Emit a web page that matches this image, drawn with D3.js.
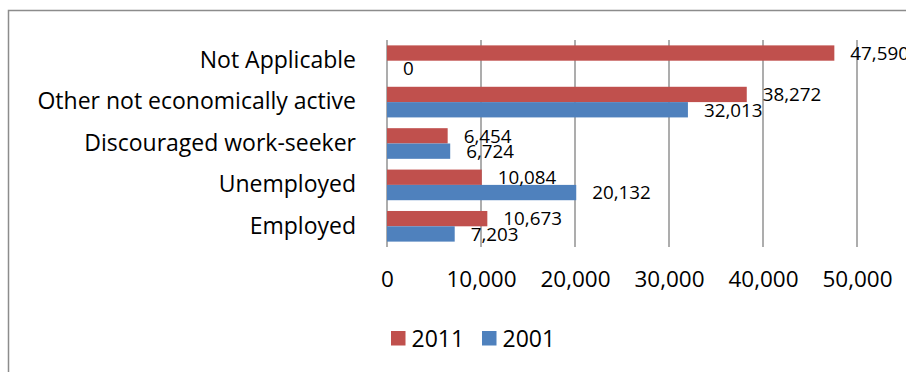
<!DOCTYPE html>
<html>
<head>
<meta charset="utf-8">
<script src="https://cdn.jsdelivr.net/npm/d3@7"></script>
<style>
  html, body { margin: 0; padding: 0; background: #fff; }
  svg { display: block; }
  text { font-family: "Open Sans", Lato, sans-serif; fill: #000; }
</style>
</head>
<body>
<svg id="chart" width="906" height="372"></svg>
<script>
// Economic activity status, population counts by census year
const categories = ["Not Applicable", "Other not economically active", "Discouraged work-seeker", "Unemployed", "Employed"];
const values2011 = [47590, 38272, 6454, 10084, 10673];
const values2001 = [0, 32013, 6724, 20132, 7203];
const seriesNames = ["2011", "2001"];
const seriesColors = ["#C0504D", "#4F81BD"];
const tickValues = [0, 10000, 20000, 30000, 40000, 50000];

const FONT = "'Open Sans'";
const svg = d3.select("#chart");

// outer chart frame (runs off the right and bottom edges)
svg.append("rect")
  .attr("x", 8.5).attr("y", 10.5)
  .attr("width", 1000).attr("height", 1000)
  .attr("fill", "none").attr("stroke", "#8c8c8c").attr("stroke-width", 1.5);

const x = d3.scaleLinear().domain([0, 50000]).range([387, 857]);
const y = d3.scaleBand().domain(categories).range([40, 247]).paddingInner(0.26).paddingOuter(0.13);
const sub = d3.scaleBand().domain(seriesNames).range([0, y.bandwidth()]);

// vertical gridlines
svg.append("g").selectAll("line").data(tickValues).join("line")
  .attr("x1", d => x(d)).attr("x2", d => x(d))
  .attr("y1", 40).attr("y2", 247)
  .attr("stroke", "#8a8a8a").attr("stroke-width", 1.4);

// value axis labels
const xAxis = d3.axisBottom(x).tickValues(tickValues).tickFormat(d3.format(",")).tickSize(0).tickPadding(0);
const xg = svg.append("g").attr("transform", "translate(0,272)").call(xAxis);
xg.select(".domain").remove();
xg.selectAll("text").attr("font-size", 22.5).attr("font-family", FONT).attr("fill", "#000").attr("dy", "0.68em");

// category labels
const yAxis = d3.axisLeft(y).tickSize(0).tickPadding(0);
const yg = svg.append("g").attr("transform", "translate(356,0)").call(yAxis);
yg.select(".domain").remove();
yg.selectAll("text").attr("font-size", 23).attr("font-family", FONT).attr("fill", "#000");

const rows = categories.map((c, i) => ({ cat: c, vals: [values2011[i], values2001[i]] }));

const groups = svg.append("g").selectAll("g").data(rows).join("g")
  .attr("transform", d => `translate(0,${y(d.cat)})`);

groups.selectAll("rect").data(d => d.vals.map((v, j) => ({ v, s: seriesNames[j], c: seriesColors[j] })))
  .join("rect")
  .attr("x", x(0))
  .attr("y", d => sub(d.s))
  .attr("width", d => x(d.v) - x(0))
  .attr("height", sub.bandwidth())
  .attr("fill", d => d.c);

// value labels at the end of each bar
const fmt = d3.format(",");
groups.selectAll("text.val").data(d => d.vals.map((v, j) => ({ v, s: seriesNames[j] })))
  .join("text").attr("class", "val")
  .attr("x", d => x(d.v) + 16)
  .attr("y", d => sub(d.s) + sub.bandwidth() / 2)
  .attr("dy", "0.36em")
  .attr("font-size", 18.8)
  .text(d => fmt(d.v));

// legend
const legend = svg.append("g").attr("transform", "translate(391,331)");
const items = legend.selectAll("g").data(seriesNames).join("g")
  .attr("transform", (d, i) => `translate(${i * 91},0)`);
items.append("rect").attr("width", 14.5).attr("height", 14.5).attr("fill", (d, i) => seriesColors[i]);
items.append("text").attr("x", 20.5).attr("y", 7.5).attr("dy", "0.36em").attr("font-size", 23).text(d => d);
</script>
</body>
</html>
